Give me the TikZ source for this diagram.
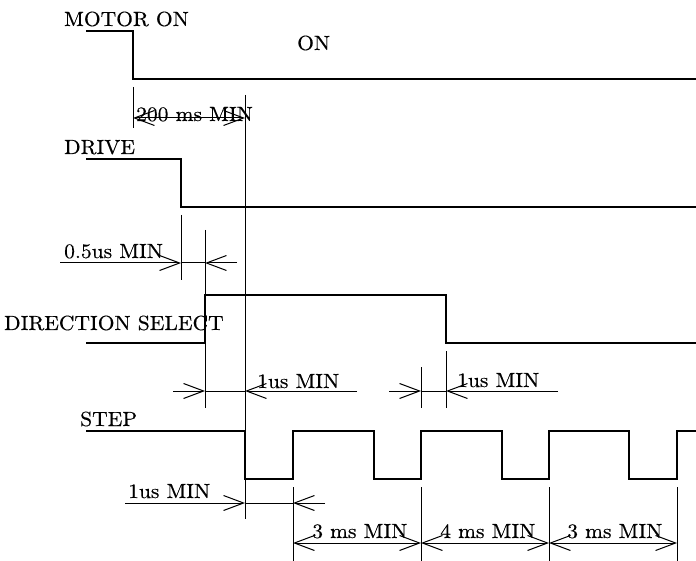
\documentclass[tikz,border=0pt]{standalone}
\usepackage{fontspec}
\setmainfont{lmroman10-regular.otf}[FakeStretch=1.05,FakeBold=0.4]
\usetikzlibrary{arrows.meta}
\begin{document}
\begin{tikzpicture}[x=1pt,y=-1pt,
  sig/.style={line width=2.8pt, line join=miter},
  thin/.style={line width=1pt},
  barb/.tip={Straight Barb[length=20pt,width=15pt,line width=1pt]},
  dimboth/.style={thin, barb-barb},
  dimend/.style={thin, -barb},
  lbl/.style={anchor=base west, inner sep=0pt, font=\fontsize{20.5}{24}\selectfont}]
\useasboundingbox (0,0) rectangle (696,561);
% labels
\node[lbl] (lmotor) at (64,26) {MOTOR ON};
\node[lbl] (lon) at (297,50) {ON};
\node[lbl] (l200) at (136,121) {200 ms MIN};
\node[lbl] (ldrive) at (64,154) {DRIVE};
\node[lbl] (l05) at (64,258) {0.5us MIN};
\node[lbl] (ldir) at (4,330) {DIRECTION SELECT};
\node[lbl] (l1a) at (257,388) {1us MIN};
\node[lbl] (l1b) at (457,387) {1us MIN};
\node[lbl] (lstep) at (80,426) {STEP};
\node[lbl] (l1c) at (128,498) {1us MIN};
\node[lbl] (l3a) at (312,538) {3 ms MIN};
\node[lbl] (l4) at (440,538) {4 ms MIN};
\node[lbl] (l3b) at (567,538) {3 ms MIN};
% signals
\draw[sig] (86,31) -| (133,79) -- (696,79);
\draw[sig] (86,159) -| (181,207) -- (696,207);
\draw[sig] (86,343) -| (205,295) -| (446,343) -- (696,343);
\draw[sig] (86,431) -| (245,479) -| (293,431) -| (374,479) -| (421,431)
  -| (502,479) -| (549,431) -| (629,479) -| (677,431) -- (696,431);
% extension lines
\draw[thin] (133,87) -- (133,128);
\draw[thin] (245,95) -- (245,519);
\draw[thin] (181,215) -- (181,280);
\draw[thin] (205,230) -- (205,408);
\draw[thin] (421,367) -- (421,408);
\draw[thin] (446,351) -- (446,408);
\draw[thin] (293,487) -- (293,561);
\draw[thin] (421,487) -- (421,561);
\draw[thin] (549,487) -- (549,561);
\draw[thin] (677,487) -- (677,561);
% dimensions
\coordinate (a1) at (133,118); \coordinate (a2) at (245,118);
\draw[dimboth] (a1) -- (a2);
\coordinate (b0) at (60,263); \coordinate (b1) at (181,263);
\coordinate (b2) at (205,263); \coordinate (b3) at (237,263);
\draw[thin] (b1) -- (b2);
\draw[dimend] (b0) -- (b1);
\draw[dimend] (b3) -- (b2);
\coordinate (c0) at (173,391); \coordinate (c1) at (205,391);
\coordinate (c2) at (245,391); \coordinate (c3) at (357,391);
\draw[thin] (c1) -- (c2);
\draw[dimend] (c0) -- (c1);
\draw[dimend] (c3) -- (c2);
\coordinate (d0) at (389,391); \coordinate (d1) at (421,391);
\coordinate (d2) at (446,391); \coordinate (d3) at (558,391);
\draw[thin] (d1) -- (d2);
\draw[dimend] (d0) -- (d1);
\draw[dimend] (d3) -- (d2);
\coordinate (e0) at (125,503); \coordinate (e1) at (245,503);
\coordinate (e2) at (293,503); \coordinate (e3) at (325,503);
\draw[thin] (e1) -- (e2);
\draw[dimend] (e0) -- (e1);
\draw[dimend] (e3) -- (e2);
\coordinate (f1) at (293,543); \coordinate (f2) at (421,543);
\coordinate (f3) at (549,543); \coordinate (f4) at (677,543);
\draw[dimboth] (f1) -- (f2);
\draw[dimboth] (f2) -- (f3);
\draw[dimboth] (f3) -- (f4);
\end{tikzpicture}
\end{document}
